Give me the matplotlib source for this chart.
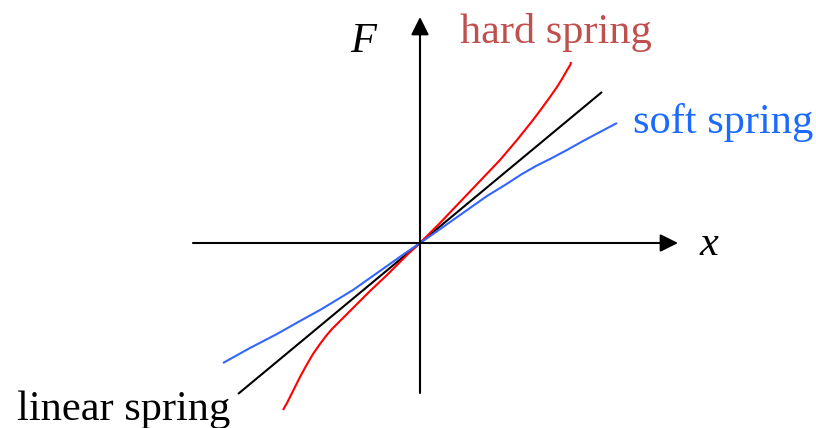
import matplotlib.pyplot as plt

# curvas (x, F) con origen en el cruce de ejes
linear_x = [-182, 182]
linear_F = [-151, 151]

hard_x = [-137, -133, -129, -125, -120, -114, -107, -100, -94, -88, -82, -75, -67, -50, -33, -13, 0,
          20, 40, 60, 80, 97, 113, 122, 130, 137, 142, 146, 149, 150.5, 151]
hard_F = [-167, -160, -152, -144, -134, -123, -111, -101, -93, -86, -80, -73, -65, -48, -32, -12, 0,
          20, 41, 62, 83, 103, 123, 135, 146, 156, 164, 171, 176, 178.5, 181]

soft_x = [-197, -170, -143, -120, -100, -90, -67, -50, -33, -16, 0,
          16, 33, 50, 67, 85, 102, 116, 130, 147, 163, 180, 197]
soft_F = [-120, -105, -91, -78, -67, -61, -47, -35, -23, -11, 0,
          11, 23, 35, 47, 58, 69, 77, 84, 93, 102, 111, 120]

plt.rcParams['font.family'] = ['Liberation Serif', 'DejaVu Serif']

fig = plt.figure(figsize=(8.16, 4.28), dpi=100)
ax = fig.add_axes([0, 0, 1, 1])
ax.set_xlim(-420, 396)
ax.set_ylim(-185, 243)
ax.axis('off')

# ejes con flechas
arrow = dict(arrowstyle='-|>,head_length=1.0,head_width=0.5', mutation_scale=10.8,
             lw=1.5, color='black', shrinkA=0, shrinkB=0)
ax.annotate('', xy=(258, 0), xytext=(-227, 0), arrowprops=arrow)
ax.annotate('', xy=(0, 226), xytext=(0, -150), arrowprops=arrow)

ax.plot(linear_x, linear_F, color='black', lw=1.5, solid_capstyle='butt')
ax.plot(hard_x, hard_F, color='#ff0000', lw=1.5, solid_capstyle='butt', solid_joinstyle='round')
ax.plot(soft_x, soft_F, color='#3366ff', lw=1.5, solid_capstyle='butt', solid_joinstyle='round')

fs = 30.5
ax.text(40, 200, 'hard spring', color='#c0504d', fontsize=fs, va='baseline', ha='left')
ax.text(213, 110, 'soft spring', color='#1a6aff', fontsize=fs, va='baseline', ha='left')
ax.text(-403, -177, 'linear spring', color='black', fontsize=fs, va='baseline', ha='left')
ax.text(-70, 191, 'F', fontsize=fs, style='italic', va='baseline', ha='left')
ax.text(280, -12, 'x', fontsize=fs, style='italic', va='baseline', ha='left')

fig.savefig('out.png', dpi=100)
